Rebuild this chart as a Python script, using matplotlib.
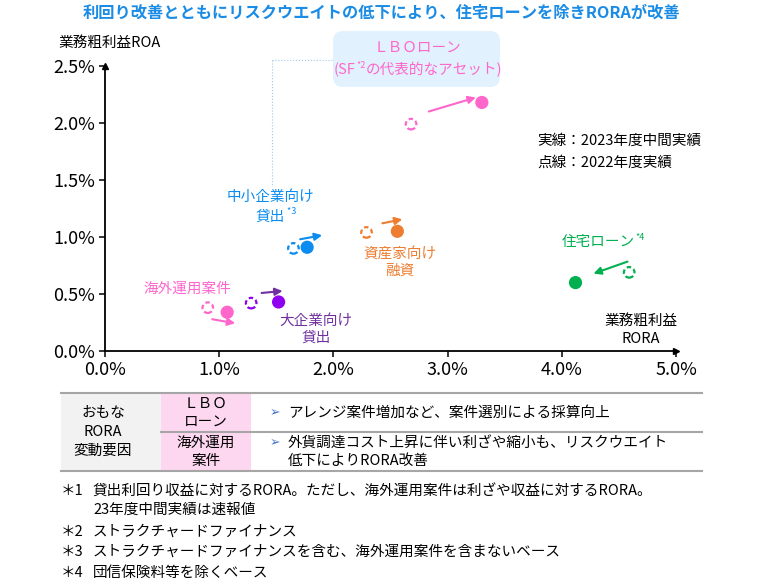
import matplotlib
matplotlib.use('Agg')
import matplotlib.pyplot as plt
import matplotlib.transforms as mtransforms
from matplotlib.patches import FancyBboxPatch, Rectangle

plt.rcParams['font.family'] = ['Noto Sans CJK JP', 'DejaVu Sans']

# data (RORA %, ROA %)
categories = ['LBO', 'SME', 'asset', 'housing', 'overseas', 'large']
rora_2023 = [3.30, 1.77, 2.56, 4.12, 1.07, 1.52]
roa_2023 = [2.18, 0.91, 1.05, 0.60, 0.34, 0.43]
rora_2022 = [2.68, 1.65, 2.29, 4.59, 0.90, 1.28]
roa_2022 = [1.99, 0.90, 1.04, 0.69, 0.38, 0.42]
xticks = [0, 1, 2, 3, 4, 5]
yticks = [0, 0.5, 1.0, 1.5, 2.0, 2.5]

title = '利回り改善とともにリスクウエイトの低下により、住宅ローンを除きRORAが改善'
footnotes = [
    ('＊1', '貸出利回り収益に対するRORA。ただし、海外運用案件は利ざや収益に対するRORA。'),
    ('', '23年度中間実績は速報値'),
    ('＊2', 'ストラクチャードファイナンス'),
    ('＊3', 'ストラクチャードファイナンスを含む、海外運用案件を含まないベース'),
    ('＊4', '団信保険料等を除くベース'),
]

colors = {'LBO': '#FF66CC', 'SME': '#0A8CF0', 'asset': '#ED7D31',
          'housing': '#00B050', 'overseas': '#FF66CC', 'large': '#9000F0'}
arrow_colors = dict(colors, large='#7030A0')
# arrow tail / head offsets in pixels relative to the 2023 marker
arrow_offsets = {'LBO': ((-53, -9), (-6, 5)), 'SME': ((-7, 8), (15, 12)),
                 'asset': ((-15, 8), (5, 12)), 'housing': ((52, 21), (18, 9)),
                 'overseas': ((-15, -7), (8, -11)), 'large': ((-17, 9), (4, 11))}

fig = plt.figure(figsize=(7.6, 5.83), dpi=100)
ax = fig.add_axes([105/760, 1-351/583, 571/760, 285/583])
ax.set_xlim(0, 5)
ax.set_ylim(0, 2.5)
ax.set_xticks(xticks)
ax.set_xticklabels(['%.1f%%' % v for v in xticks])
ax.set_yticks(yticks)
ax.set_yticklabels(['%.1f%%' % v for v in yticks])
ax.tick_params(labelsize=13, length=4, width=1.1, pad=3)
for s in ['top', 'right']:
    ax.spines[s].set_visible(False)
for s in ['left', 'bottom']:
    ax.spines[s].set_linewidth(1.3)
ax.plot(1, 0, '>k', ms=5, transform=ax.transAxes, clip_on=False)
ax.plot(0, 1, '^k', ms=5, transform=ax.transAxes, clip_on=False)

cols = [colors[c] for c in categories]
ax.scatter(rora_2022, roa_2022, s=58, facecolors='white', edgecolors=cols,
           linewidths=1.6, linestyle=(0, (2.0, 1.3)), zorder=3, clip_on=False)
ax.scatter(rora_2023, roa_2023, s=72, c=cols, zorder=3, clip_on=False)

for i, c in enumerate(categories):
    (tx, ty), (hx, hy) = arrow_offsets[c]
    head_tr = mtransforms.offset_copy(ax.transData, fig=fig, x=hx, y=hy, units='dots')
    tail_tr = mtransforms.offset_copy(ax.transData, fig=fig, x=tx, y=ty, units='dots')
    ax.annotate('', xy=(rora_2023[i], roa_2023[i]), xycoords=head_tr,
                xytext=(rora_2023[i], roa_2023[i]), textcoords=tail_tr,
                arrowprops=dict(arrowstyle='-|>', color=arrow_colors[c], lw=1.5,
                                mutation_scale=11, shrinkA=0, shrinkB=0))

# overlay in pixel coordinates for labels, box and table
ov = fig.add_axes([0, 0, 1, 1])
ov.set_xlim(0, 760)
ov.set_ylim(583, 0)
ov.axis('off')
ov.patch.set_alpha(0)
renderer = fig.canvas.get_renderer()


def run_text(x, y, parts, color, ha='center'):
    # parts: (text, fontsize, rise in px)
    objs = []
    total = 0
    for s, fs, rise in parts:
        t = ov.text(0, y - rise, s, fontsize=fs, color=color, va='center', ha='left')
        w = t.get_window_extent(renderer).width
        objs.append((t, w))
        total += w
    x0 = x - total / 2 if ha == 'center' else x
    for t, w in objs:
        t.set_x(x0)
        x0 += w


ov.text(381, 13, title, fontsize=11.7, color='#1A8CE6', weight='bold', ha='center', va='center')
ov.text(58, 43, '業務粗利益ROA', fontsize=10.5, ha='left', va='center')
ov.text(641, 321, '業務粗利益', fontsize=10.5, ha='center', va='center')
ov.text(641, 339, 'RORA', fontsize=10.5, ha='center', va='center')
ov.text(537, 141, '実線：2023年度中間実績', fontsize=10.5, ha='left', va='center')
ov.text(537, 163, '点線：2022年度実績', fontsize=10.5, ha='left', va='center')

# LBO call-out box
ov.add_patch(FancyBboxPatch((333, 31), 167, 56, boxstyle='round,pad=0,rounding_size=10',
                            fc='#E1F1FD', ec='none'))
ov.plot([272, 333], [60, 60], color='#9DC8EC', lw=0.8, ls=':')
ov.plot([272, 272], [60, 185], color='#9DC8EC', lw=0.8, ls=':')
ov.text(417, 48, 'ＬＢＯローン', fontsize=10.5, color=colors['LBO'], ha='center', va='center')
run_text(418, 70, [('(SF', 10.5, 0), ('*2', 6.5, 5), ('の代表的なアセット)', 10.5, 0)], colors['LBO'])

# category labels
ov.text(270, 197, '中小企業向け', fontsize=10.5, color=colors['SME'], ha='center', va='center')
run_text(276, 217, [('貸出', 10.5, 0), (' *3', 6.5, 5)], colors['SME'])
ov.text(400, 254, '資産家向け', fontsize=10.5, color=colors['asset'], ha='center', va='center')
ov.text(400, 271, '融資', fontsize=10.5, color=colors['asset'], ha='center', va='center')
run_text(603, 242, [('住宅ローン', 10.5, 0), ('*4', 6.5, 5)], colors['housing'])
ov.text(187, 289, '海外運用案件', fontsize=10.5, color=colors['overseas'], ha='center', va='center')
ov.text(316, 321, '大企業向け', fontsize=10.5, color='#7030A0', ha='center', va='center')
ov.text(316, 338, '貸出', fontsize=10.5, color='#7030A0', ha='center', va='center')

# table
ov.add_patch(Rectangle((61, 393), 100, 78, fc='#F2F2F2', ec='none'))
ov.add_patch(Rectangle((161, 393), 90, 78, fc='#FDD7F0', ec='none'))
ov.plot([61, 702], [393, 393], color='#A6A6A6', lw=1.5)
ov.plot([161, 702], [432, 432], color='#A6A6A6', lw=1.5)
ov.plot([61, 702], [471, 471], color='#A6A6A6', lw=1.5)
for yy, s in zip([413, 432, 451], ['おもな', 'RORA', '変動要因']):
    ov.text(103, yy, s, fontsize=10.5, ha='center', va='center')
for yy, s in zip([404, 422, 443, 461], ['ＬＢＯ', 'ローン', '海外運用', '案件']):
    ov.text(206, yy, s, fontsize=10.5, ha='center', va='center')
for yy in [413, 443]:
    ov.text(270, yy, '➢', fontsize=9, color='#4472C4', ha='left', va='center')
ov.text(288, 413, 'アレンジ案件増加など、案件選別による採算向上', fontsize=10.5, ha='left', va='center')
ov.text(288, 443, '外貨調達コスト上昇に伴い利ざや縮小も、リスクウエイト', fontsize=10.5, ha='left', va='center')
ov.text(288, 461, '低下によりRORA改善', fontsize=10.5, ha='left', va='center')

# footnotes
for yy, (mark, s) in zip([491, 510, 532, 552, 573], footnotes):
    ov.text(61, yy, mark, fontsize=10.5, ha='left', va='center')
    ov.text(93, yy, s, fontsize=10.5, ha='left', va='center')

fig.savefig('out.png', dpi=100)
